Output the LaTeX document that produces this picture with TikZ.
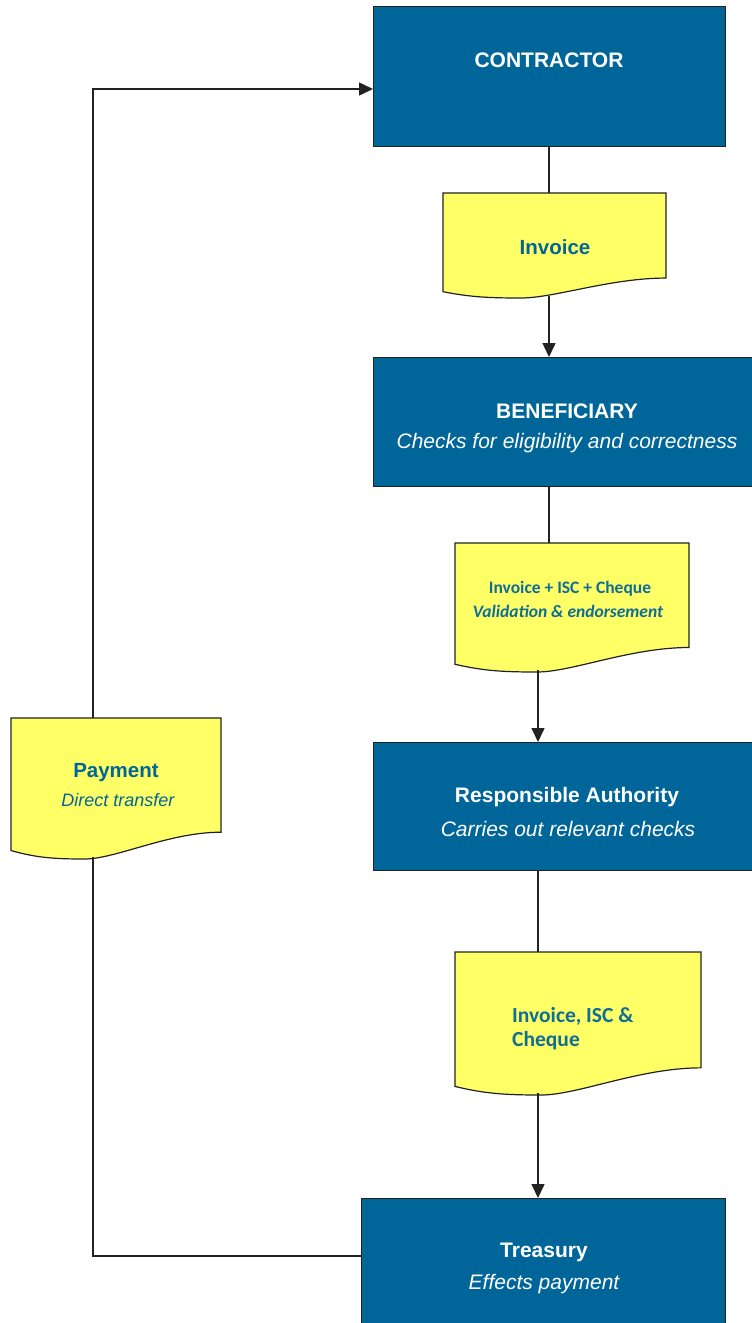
\documentclass[tikz,border=0pt]{standalone}
\usepackage{fontspec}
\setmainfont{Liberation Sans}
\newfontfamily\carlito{Carlito}
\usetikzlibrary{arrows.meta,calc}
\definecolor{boxblue}{HTML}{006699}
\definecolor{docyellow}{HTML}{FFFF66}
\definecolor{txtblue}{HTML}{006699}
\definecolor{txtteal}{HTML}{0F6E96}
\definecolor{linec}{HTML}{222222}
\newcommand\docshape[3]{% node name, width, height
  \begin{scope}[shift={(#1.south west)}]
    \draw[docline] (0,-#3) -- (#2,-#3) -- (#2,{-0.19*#3})
      .. controls ({0.75*#2},{-0.19*#3}) and ({0.5*#2},0) .. ({0.35*#2},0)
      .. controls ({0.2*#2},0) and ({0.12*#2},{-0.01*#3}) .. (0,{-0.06*#3}) -- cycle;
  \end{scope}}
\begin{document}
\begin{tikzpicture}[x=1pt,y=-1pt,
  bluebox/.style={rectangle, fill=boxblue, draw=linec, line width=1pt, inner sep=0pt, outer sep=0pt},
  docbox/.style={rectangle, inner sep=0pt, outer sep=0pt},
  docline/.style={fill=docyellow, draw=linec, line width=1.2pt},
  wtitle/.style={text=white, font=\fontsize{21}{25}\selectfont\bfseries, inner sep=0pt},
  wsub/.style={text=white, font=\fontsize{21}{25}\selectfont\itshape, inner sep=0pt},
  dtitle/.style={text=txtblue, font=\fontsize{20.5}{24}\selectfont\bfseries, inner sep=0pt},
  dsub/.style={text=txtblue, font=\fontsize{18}{22}\selectfont\itshape, inner sep=0pt},
  ctext/.style={text=txtteal, font=\carlito\fontsize{17.5}{21}\selectfont\bfseries, inner sep=0pt},
  cbig/.style={text=txtteal, font=\carlito\fontsize{21.5}{25}\selectfont\bfseries, inner sep=0pt, anchor=west},
  conn/.style={draw=linec, line width=1.5pt},
  arr/.style={conn, -{Triangle[length=14pt,width=13pt]}},
]
\clip (0,0) rectangle (752,1323);
\fill[white] (0,0) rectangle (752,1323);

% column coordinates
\coordinate (colA) at (93,0);
\coordinate (colB) at (538,0);
\coordinate (colC) at (549,0);
\coordinate (topY) at (0,89);
\coordinate (loopY) at (0,1256);

% blue boxes
\node[bluebox, minimum width=352pt, minimum height=140pt] (con) at (549,76) {};
\node[bluebox, minimum width=397pt, minimum height=129pt] (ben) at (571.5,421.5) {};
\node[bluebox, minimum width=397pt, minimum height=128pt] (ra) at (571.5,806) {};
\node[bluebox, minimum width=364pt, minimum height=142pt] (tre) at (543,1269) {};

% document shapes
\node[docbox, minimum width=223pt, minimum height=105pt] (inv) at (554.5,245.5) {};
\node[docbox, minimum width=234pt, minimum height=129pt] (d2) at (572,607.5) {};
\node[docbox, minimum width=246pt, minimum height=143pt] (d3) at (578,1023.5) {};
\node[docbox, minimum width=210pt, minimum height=141pt] (pay) at (116,788.5) {};
\docshape{inv}{223}{105}
\docshape{d2}{234}{129}
\docshape{d3}{246}{143}
\docshape{pay}{210}{141}

% texts
\node[wtitle] (conT) at (549,60) {CONTRACTOR};
\node[dtitle] (invT) at (555,247) {Invoice};
\node[wtitle] (benT) at (567,411) {BENEFICIARY};
\node[wsub] (benS) at (567,443) {Checks for eligibility and correctness};
\node[ctext] (d2T) at (570,589) {Invoice + ISC + Cheque};
\node[ctext] (d2S) at (568,611) {\itshape Validation \& endorsement};
\node[wtitle] (raT) at (567,797) {Responsible Authority};
\node[wsub] (raS) at (568,829) {Carries out relevant checks};
\node[cbig] (d3T) at (512,1016) {Invoice, ISC \&};
\node[cbig] (d3S) at (512,1041) {Cheque};
\node[wtitle] (treT) at (544,1252) {Treasury};
\node[wsub] (treS) at (544,1284) {Effects payment};
\node[dtitle] (payT) at (116,773) {Payment};
\node[dsub] (payS) at (118,800) {Direct transfer};

% connectors
\draw[conn] (con.south -| colC) -- (inv.north -| colC);
\draw[arr, shorten <=-2pt] (inv.south -| colC) -- (ben.north -| colC);
\draw[conn] (ben.south -| colC) -- (d2.north -| colC);
\draw[arr, shorten <=-2pt] (d2.south -| colB) -- (ra.north -| colB);
\draw[conn] (ra.south -| colB) -- (d3.north -| colB);
\draw[arr, shorten <=-2pt] (d3.south -| colB) -- (tre.north -| colB);
\draw[conn, shorten >=-2pt] (tre.west |- loopY) -| (colA |- pay.south);
\draw[arr] (colA |- pay.north) |- (con.west |- topY);
\end{tikzpicture}
\end{document}
